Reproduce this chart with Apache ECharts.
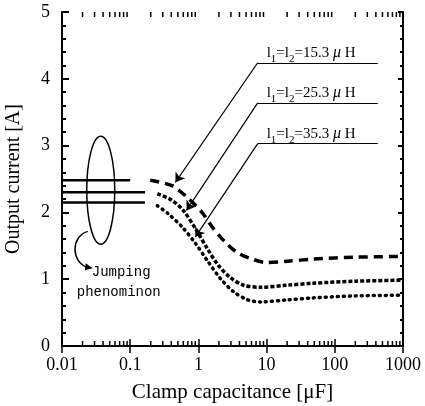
<!DOCTYPE html>
<html>
<head>
<meta charset="utf-8">
<script src="https://cdn.jsdelivr.net/npm/echarts@6/dist/echarts.min.js"></script>
<style>
  html, body { margin: 0; padding: 0; background: #fff; }
  #main { width: 425px; height: 406px; }
</style>
</head>
<body>
<div id="main"></div>
<script>
// tick labels
const xTicks = ['0.01', '0.1', '1', '10', '100', '1000'];
const yTicks = [0, 1, 2, 3, 4, 5];

// jumping levels at small capacitance (solid lines)
const jumpCap1 = [0.01, 0.1];
const jumpCur1 = [2.48, 2.48];
const jumpCap2 = [0.01, 0.165];
const jumpCur2 = [2.30, 2.30];
const jumpCap3 = [0.01, 0.165];
const jumpCur3 = [2.15, 2.15];

// l1=l2=15.3 uH
const cap15 = [0.197, 0.41, 0.71, 1.15, 1.6, 2.5, 3.7, 5.8, 10, 20, 48, 200, 1000];
const cur15 = [2.48, 2.40, 2.21, 1.99, 1.78, 1.55, 1.40, 1.31, 1.25, 1.27, 1.30, 1.33, 1.34];
// l1=l2=25.3 uH
const cap25 = [0.25, 0.41, 0.6, 0.9, 1.35, 1.95, 2.9, 4.6, 8.2, 20, 48, 200, 1000];
const cur25 = [2.28, 2.18, 2.03, 1.76, 1.46, 1.21, 1.03, 0.91, 0.88, 0.91, 0.94, 0.97, 0.985];
// l1=l2=35.3 uH
const cap35 = [0.25, 0.36, 0.58, 0.9, 1.35, 2.1, 3.3, 5.3, 8.2, 20, 48, 200, 1000];
const cur35 = [2.10, 1.98, 1.78, 1.54, 1.28, 1.01, 0.81, 0.69, 0.66, 0.69, 0.72, 0.75, 0.76];

const labelNames = ['15.3', '25.3', '35.3'];
// leader lines: underline start x, y and arrow tip
const leaderY = [4.24, 3.64, 3.03];
const leaderX0 = 7.4, leaderX1 = 427;
const arrowTipCap = [0.46, 0.67, 0.90];
const arrowTipCur = [2.45, 2.03, 1.63];

const zip = (a, b) => a.map((v, i) => [v, b[i]]);

// log minor tick positions
const minorCaps = [];
for (let e = -2; e < 3; e++) {
  for (let m = 2; m <= 9; m++) minorCaps.push(m * Math.pow(10, e));
}

const chart = echarts.init(document.getElementById('main'));
const serif = 'Liberation Serif, Times New Roman, serif';

const axisLine = { show: true, lineStyle: { color: '#000', width: 2 } };

const leaderLines = [];
for (let i = 0; i < 3; i++) {
  leaderLines.push([{ coord: [leaderX1, leaderY[i]] }, { coord: [leaderX0, leaderY[i]] }]);
  leaderLines.push([
    { coord: [leaderX0, leaderY[i]], symbol: 'none' },
    { coord: [arrowTipCap[i], arrowTipCur[i]], symbol: 'arrow' }
  ]);
}

const option = {
  animation: false,
  backgroundColor: '#fff',
  grid: { left: 62, right: 22, top: 12, bottom: 60, containLabel: false, outerBoundsMode: 'none' },
  xAxis: [
    {
      type: 'log', logBase: 10, min: 0.01, max: 1000,
      name: 'Clamp capacitance [\u03bcF]', nameLocation: 'middle', nameGap: 36,
      nameTextStyle: { fontFamily: serif, fontSize: 21, color: '#000' },
      axisLine: axisLine,
      axisTick: { inside: true, length: 7, lineStyle: { color: '#000', width: 1.5 } },
      axisLabel: {
        margin: 10, fontFamily: serif, fontSize: 18, color: '#000',
        formatter: v => xTicks.find(t => Math.abs(Number(t) - v) / v < 1e-6) || ''
      },
      splitLine: { show: false }
    },
    {
      type: 'log', logBase: 10, min: 0.01, max: 1000, position: 'top',
      axisLine: axisLine,
      axisTick: { inside: true, length: 7, lineStyle: { color: '#000', width: 1.5 } },
      axisLabel: { show: false },
      splitLine: { show: false }
    }
  ],
  yAxis: [
    {
      type: 'value', min: 0, max: 5, interval: 1,
      name: 'Output current [A]', nameLocation: 'middle', nameGap: 38, nameRotate: 90,
      nameTextStyle: { fontFamily: serif, fontSize: 20, color: '#000' },
      axisLine: axisLine,
      axisTick: { inside: true, length: 7, lineStyle: { color: '#000', width: 2 } },
      minorTick: { show: true, splitNumber: 5, length: 4, lineStyle: { color: '#000', width: 2 } },
      axisLabel: {
        margin: 12, fontFamily: serif, fontSize: 18, color: '#000',
        formatter: v => yTicks.includes(v) ? String(v) : ''
      },
      splitLine: { show: false }
    },
    {
      type: 'value', min: 0, max: 5, interval: 1, position: 'right',
      axisLine: axisLine,
      axisTick: { inside: true, length: 5, lineStyle: { color: '#000', width: 2 } },
      minorTick: { show: true, splitNumber: 5, length: 3, lineStyle: { color: '#000', width: 2 } },
      axisLabel: { show: false },
      splitLine: { show: false }
    }
  ],
  series: [
    { type: 'line', data: zip(jumpCap1, jumpCur1), symbol: 'none', lineStyle: { color: '#000', width: 2.5 } },
    { type: 'line', data: zip(jumpCap2, jumpCur2), symbol: 'none', lineStyle: { color: '#000', width: 2.5 } },
    { type: 'line', data: zip(jumpCap3, jumpCur3), symbol: 'none', lineStyle: { color: '#000', width: 2.5 } },
    {
      type: 'line', data: zip(cap15, cur15), symbol: 'none', smooth: 0.3,
      lineStyle: { color: '#000', width: 3.5, type: [9, 6] }
    },
    {
      type: 'line', data: zip(cap25, cur25), symbol: 'none', smooth: 0.3,
      lineStyle: { color: '#000', width: 3.5, type: [4, 2] }
    },
    {
      type: 'line', data: zip(cap35, cur35), symbol: 'none', smooth: 0.3,
      lineStyle: { color: '#000', width: 3.5, type: [1, 5], cap: 'round' }
    },
    {
      type: 'line', data: [], symbol: 'none',
      markLine: {
        silent: true, symbol: ['none', 'none'], symbolSize: 9,
        label: { show: false },
        lineStyle: { color: '#000', width: 1.2, type: 'solid' },
        data: leaderLines
      }
    }
  ]
};
chart.setOption(option);

// minor log ticks and annotations, placed through the axes
const graphics = [];
minorCaps.forEach(cap => {
  const b = chart.convertToPixel({ gridIndex: 0 }, [cap, 0]);
  const t = chart.convertToPixel({ gridIndex: 0 }, [cap, 5]);
  graphics.push({ type: 'line', z: 100, shape: { x1: b[0], y1: b[1], x2: b[0], y2: b[1] - 5 }, style: { stroke: '#000', lineWidth: 1.5 } });
  graphics.push({ type: 'line', z: 100, shape: { x1: t[0], y1: t[1], x2: t[0], y2: t[1] + 5 }, style: { stroke: '#000', lineWidth: 1.5 } });
});
for (let i = 0; i < 3; i++) {
  const p = chart.convertToPixel({ gridIndex: 0 }, [leaderX0, leaderY[i]]);
  graphics.push({
    type: 'text', x: p[0] + 9, y: p[1] - 2,
    style: {
      text: '{n|l}{s|1}{n|=l}{s|2}{n|=' + labelNames[i] + ' }{m|\u03bc}{n| H}',
      textVerticalAlign: 'bottom',
      rich: {
        n: { fontFamily: serif, fontSize: 15, fill: '#000' },
        s: { fontFamily: serif, fontSize: 11, fill: '#000', verticalAlign: 'bottom', padding: [0, 0, -4, 0] },
        m: { fontFamily: serif, fontSize: 16, fontStyle: 'italic', fill: '#000' }
      }
    }
  });
}
const c = chart.convertToPixel({ gridIndex: 0 }, [0.037, 2.33]);
graphics.push({
  type: 'ellipse', shape: { cx: c[0], cy: c[1], rx: 14, ry: 54 },
  style: { fill: 'none', stroke: '#000', lineWidth: 1.5 }
});
graphics.push({
  type: 'bezierCurve',
  shape: { x1: c[0] - 13, y1: c[1] + 41, cpx1: c[0] - 30, cpy1: c[1] + 46, cpx2: c[0] - 30, cpy2: c[1] + 72, x2: c[0] - 13, y2: c[1] + 77 },
  style: { fill: 'none', stroke: '#000', lineWidth: 1.5 }
});
graphics.push({
  type: 'polygon',
  shape: { points: [[c[0] - 8, c[1] + 78], [c[0] - 15, c[1] + 73], [c[0] - 16, c[1] + 80]] },
  style: { fill: '#000' }
});
graphics.push({
  type: 'text', x: c[0] - 9, y: c[1] + 75,
  style: { text: 'Jumping', fontFamily: 'Liberation Mono, monospace', fontSize: 14, fill: '#000' }
});
graphics.push({
  type: 'text', x: c[0] - 24, y: c[1] + 95,
  style: { text: 'phenominon', fontFamily: 'Liberation Mono, monospace', fontSize: 14, fill: '#000' }
});
chart.setOption({ graphic: graphics });
</script>
</body>
</html>
